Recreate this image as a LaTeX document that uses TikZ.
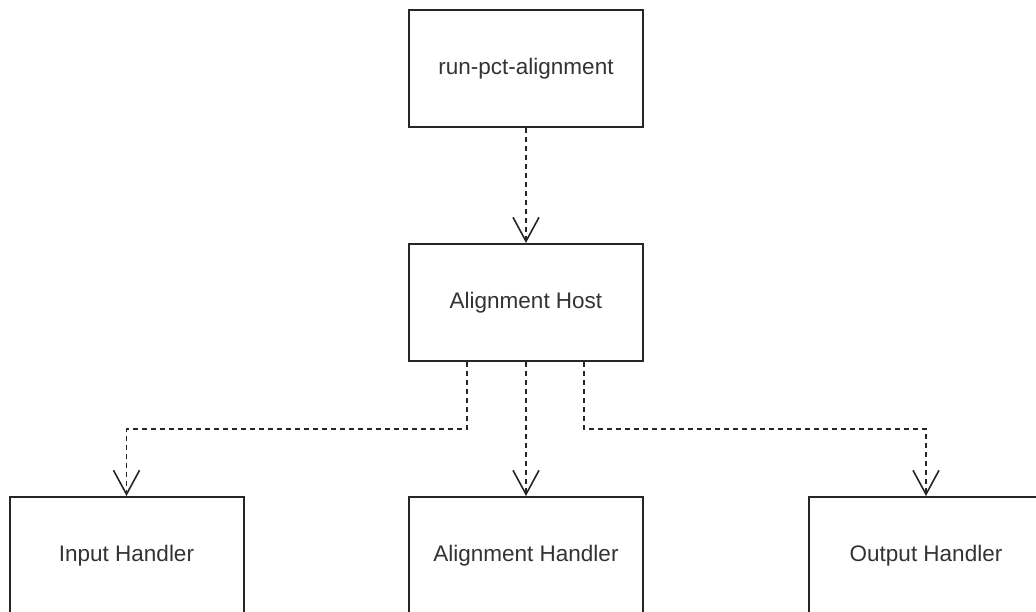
\documentclass[tikz,border=0pt]{standalone}
\usepackage{fontspec}
\setmainfont{Liberation Sans}
\usetikzlibrary{arrows.meta}
\definecolor{txt}{HTML}{333333}
\begin{document}
\begin{tikzpicture}[x=1pt,y=-1pt,
  box/.style={draw=black!85,line width=2pt,fill=white,minimum width=234pt,minimum height=117pt,inner sep=0pt,
    font=\fontsize{22.5}{27}\selectfont,text=txt},
  conn/.style={draw=black!85,line width=1.6pt,dash pattern=on 5pt off 4pt,
    -{Straight Barb[length=24pt,width=26pt,line width=1.6pt]}}]
\useasboundingbox (0,0) rectangle (1036,612);
\node[box] (top) at (526,68.5) {run-pct-alignment};
\node[box] (host) at (526,302.5) {Alignment Host};
\node[box] (inp) at (126.5,555.5) {Input Handler};
\node[box] (alh) at (526,555.5) {Alignment Handler};
\node[box] (outp) at (926,555.5) {Output Handler};
\coordinate (bl) at (467,429);
\coordinate (br) at (584,429);
\draw[conn] (top) -- (host);
\draw[conn] (host.south -| bl) -- (bl) -| (inp.north);
\draw[conn] (host) -- (alh);
\draw[conn] (host.south -| br) -- (br) -| (outp.north);
\end{tikzpicture}
\end{document}
